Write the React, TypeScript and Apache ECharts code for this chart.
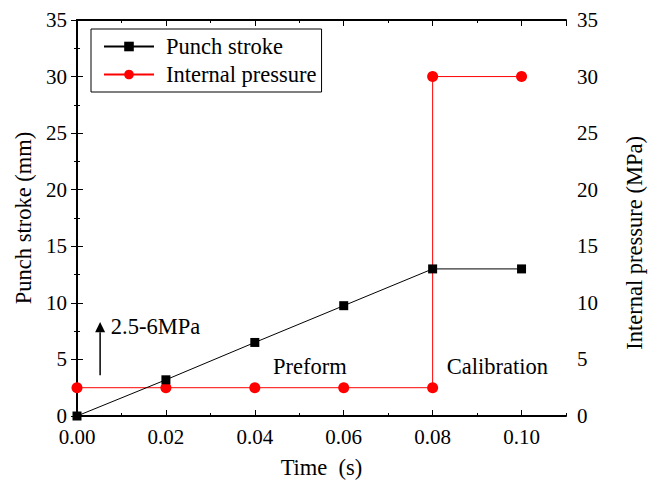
import React, { useEffect, useRef } from "react";
import * as echarts from "echarts";

const timeValues = [0, 0.02, 0.04, 0.06, 0.08, 0.1];
const strokeValues = [0, 3.2, 6.5, 9.75, 13, 13];
const pressureTimes = [0, 0.02, 0.04, 0.06, 0.08, 0.08, 0.1];
const pressureValues = [2.5, 2.5, 2.5, 2.5, 2.5, 30, 30];
const seriesNames = ["Punch stroke", "Internal pressure"];
const xTitle = "Time  (s)";
const yLeftTitle = "Punch stroke (mm)";
const yRightTitle = "Internal pressure (MPa)";
// annotation anchors in data coordinates (time, left-axis value)
const noteTexts = ["2.5-6MPa", "Preform", "Calibration"];
const noteAnchors = [
  [0.0076, 7.9],
  [0.0441, 4.4],
  [0.0832, 4.4],
];
const arrowX = 0.0052;
const arrowFromTo = [3.6, 8.3];
const arrowHeadBase = 7.4;

const FONT = "'Liberation Serif', 'Times New Roman', Times, serif";
const BIG = 22.5;

export default function App() {
  const ref = useRef<HTMLDivElement>(null);
  useEffect(() => {
    if (!ref.current) return;
    const chart = echarts.init(ref.current, undefined, { renderer: "svg" });
    const txt = { fontFamily: FONT, color: "#000" };
    const baseX = {
      type: "value",
      min: 0,
      max: 0.11,
    } as any;
    const option: any = {
      animation: false,
      backgroundColor: "#fff",
      textStyle: { fontFamily: FONT },
      grid: { left: 77, right: 91, top: 20, bottom: 67, containLabel: false },
      legend: {
        data: seriesNames,
        orient: "vertical",
        left: 91,
        top: 29,
        padding: [6, 5, 6, 12],
        itemGap: 5,
        itemWidth: 50,
        itemHeight: 12,
        borderColor: "#000",
        borderWidth: 1,
        textStyle: { ...txt, fontSize: BIG, padding: [0, 0, 0, 7] },
      },
      xAxis: [
        {
          ...baseX,
          position: "bottom",
          interval: 0.02,
          name: xTitle,
          nameLocation: "middle",
          nameGap: 40,
          nameTextStyle: { ...txt, fontSize: BIG },
          axisLine: { show: true, lineStyle: { color: "#000", width: 2 } },
          axisTick: { show: true, inside: true, length: 6, lineStyle: { color: "#000", width: 1 } },
          axisLabel: {
            ...txt,
            fontSize: 21,
            margin: 13,
            lineHeight: 16,
            showMaxLabel: false,
            formatter: (v: number) => (Math.abs(v / 0.02 - Math.round(v / 0.02)) < 1e-6 ? v.toFixed(2) : ""),
          },
          splitLine: { show: false },
        },
        {
          ...baseX,
          position: "bottom",
          interval: 0.01,
          axisLine: { show: false },
          axisTick: { show: true, inside: true, length: 3, lineStyle: { color: "#000", width: 1 } },
          axisLabel: { show: false },
          splitLine: { show: false },
        },
        {
          ...baseX,
          position: "top",
          interval: 0.02,
          axisLine: { show: true, lineStyle: { color: "#000", width: 2 } },
          axisTick: { show: true, inside: true, length: 6, lineStyle: { color: "#000", width: 1 } },
          axisLabel: { show: false },
          splitLine: { show: false },
        },
        {
          ...baseX,
          position: "top",
          interval: 0.01,
          axisLine: { show: false },
          axisTick: { show: true, inside: true, length: 3, lineStyle: { color: "#000", width: 1 } },
          axisLabel: { show: false },
          splitLine: { show: false },
        },
      ],
      yAxis: [
        {
          type: "value",
          position: "left",
          min: 0,
          max: 35,
          interval: 5,
          name: yLeftTitle,
          nameLocation: "middle",
          nameGap: 41,
          nameTextStyle: { ...txt, fontSize: BIG },
          axisLine: { show: true, lineStyle: { color: "#000", width: 2 } },
          axisTick: { show: true, inside: true, length: 6, lineStyle: { color: "#000", width: 1 } },
          minorTick: { show: true, splitNumber: 2, length: 3, lineStyle: { color: "#000", width: 1 } },
          axisLabel: { ...txt, fontSize: 21, margin: 10, lineHeight: 16 },
          splitLine: { show: false },
        },
        {
          type: "value",
          position: "right",
          min: 0,
          max: 35,
          interval: 5,
          axisLine: { show: true, lineStyle: { color: "#000", width: 2 } },
          axisTick: { show: true, inside: true, length: 6, lineStyle: { color: "#000", width: 1 } },
          minorTick: { show: true, splitNumber: 2, length: 3, lineStyle: { color: "#000", width: 1 } },
          axisLabel: { ...txt, fontSize: 21, margin: 11, lineHeight: 16 },
          splitLine: { show: false },
        },
      ],
      series: [
        {
          name: seriesNames[1],
          type: "line",
          xAxisIndex: 0,
          yAxisIndex: 1,
          data: pressureTimes.map((t, i) => [t, pressureValues[i]]),
          symbol: "circle",
          symbolSize: 11,
          color: "#ff0000",
          lineStyle: { color: "#ff0000", width: 1 },
          itemStyle: { color: "#ff0000" },
        },
        {
          name: seriesNames[0],
          type: "line",
          xAxisIndex: 0,
          yAxisIndex: 0,
          data: timeValues.map((t, i) => [t, strokeValues[i]]),
          symbol: "rect",
          symbolSize: 9,
          color: "#000",
          lineStyle: { color: "#000", width: 1 },
          itemStyle: { color: "#000" },
        },
      ],
    };
    chart.setOption(option);

    const px = (x: number, y: number) =>
      chart.convertToPixel({ xAxisIndex: 0, yAxisIndex: 0 }, [x, y]) as number[];
    const graphics: any[] = [];
    noteTexts.forEach((t, i) => {
      const p = px(noteAnchors[i][0], noteAnchors[i][1]);
      graphics.push({
        type: "text",
        x: p[0],
        y: p[1],
        style: { text: t, fontSize: BIG, fontFamily: FONT, fill: "#000", align: "left", verticalAlign: "middle" },
      });
    });
    const a0 = px(arrowX, arrowFromTo[0]);
    const a1 = px(arrowX, arrowFromTo[1]);
    const hb = px(arrowX, arrowHeadBase);
    graphics.push({
      type: "line",
      shape: { x1: a0[0], y1: a0[1], x2: hb[0], y2: hb[1] },
      style: { stroke: "#000", lineWidth: 1.5 },
    });
    graphics.push({
      type: "polygon",
      shape: { points: [[a1[0], a1[1]], [a1[0] - 5, hb[1]], [a1[0] + 5, hb[1]]] },
      style: { fill: "#000" },
    });
    const rc = chart.convertToPixel({ yAxisIndex: 1 }, 15.3) as number;
    graphics.push({
      type: "text",
      x: 634,
      y: rc,
      rotation: Math.PI / 2,
      style: { text: yRightTitle, fontSize: BIG, fontFamily: FONT, fill: "#000", align: "center", verticalAlign: "middle" },
    });
    chart.setOption({ graphic: graphics });

    return () => chart.dispose();
  }, []);
  return (
    <div
      ref={ref}
      style={{ position: "fixed", left: 0, top: 0, width: 657, height: 484, background: "#fff" }}
    />
  );
}
